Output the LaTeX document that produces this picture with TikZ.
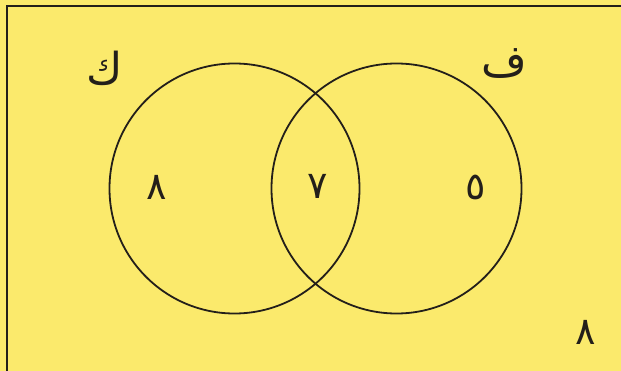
\documentclass[tikz,border=0pt]{standalone}
\usepackage{fontspec}
\usepackage{tikz}
\TeXXeTstate=1
\newfontfamily\arabicfont[Script=Arabic]{DejaVu Sans}
\definecolor{vnpaper}{HTML}{FBEA6C}
\definecolor{vnink}  {HTML}{231F1A}
\tikzset{
  vnframe/.style={draw=vnink, line width=2pt},
  vnset/.style={circle, draw=vnink, line width=1.8pt, minimum size=250pt,
                inner sep=0pt},
  vnname/.style={font=\arabicfont\fontsize{44}{46}\selectfont, text=vnink,
                 inner sep=0pt},
  vncount/.style={font=\arabicfont\fontsize{38}{40}\selectfont, text=vnink,
                  inner sep=0pt},
}

\begin{document}
\begin{tikzpicture}[x=1pt,y=-1pt]
  \fill[vnpaper] (0,0) rectangle (621,371);
  \useasboundingbox (0,0) rectangle (621,371);
  \clip (0,0) rectangle (621,371);
  \draw[vnframe] (7,6) rectangle (640,390);
  % the two sets
  \node[vnset] (K) at (234.5,188.5) {};
  \node[vnset] (F) at (396.5,188.5) {};
  \node[vnname] (Kname) at (105,68) {\beginR ك\endR};
  \node[vnname] (Fname) at (504,64) {\beginR ف\endR};
  % counts in each region
  \node[vncount] (onlyK) at (157,187) {٨};
  \node[vncount] (both)  at (318,186) {٧};
  \node[vncount] (onlyF) at (476,187) {٥};
  \node[vncount] (none)  at (585.5,332) {٨};
\end{tikzpicture}
\end{document}
